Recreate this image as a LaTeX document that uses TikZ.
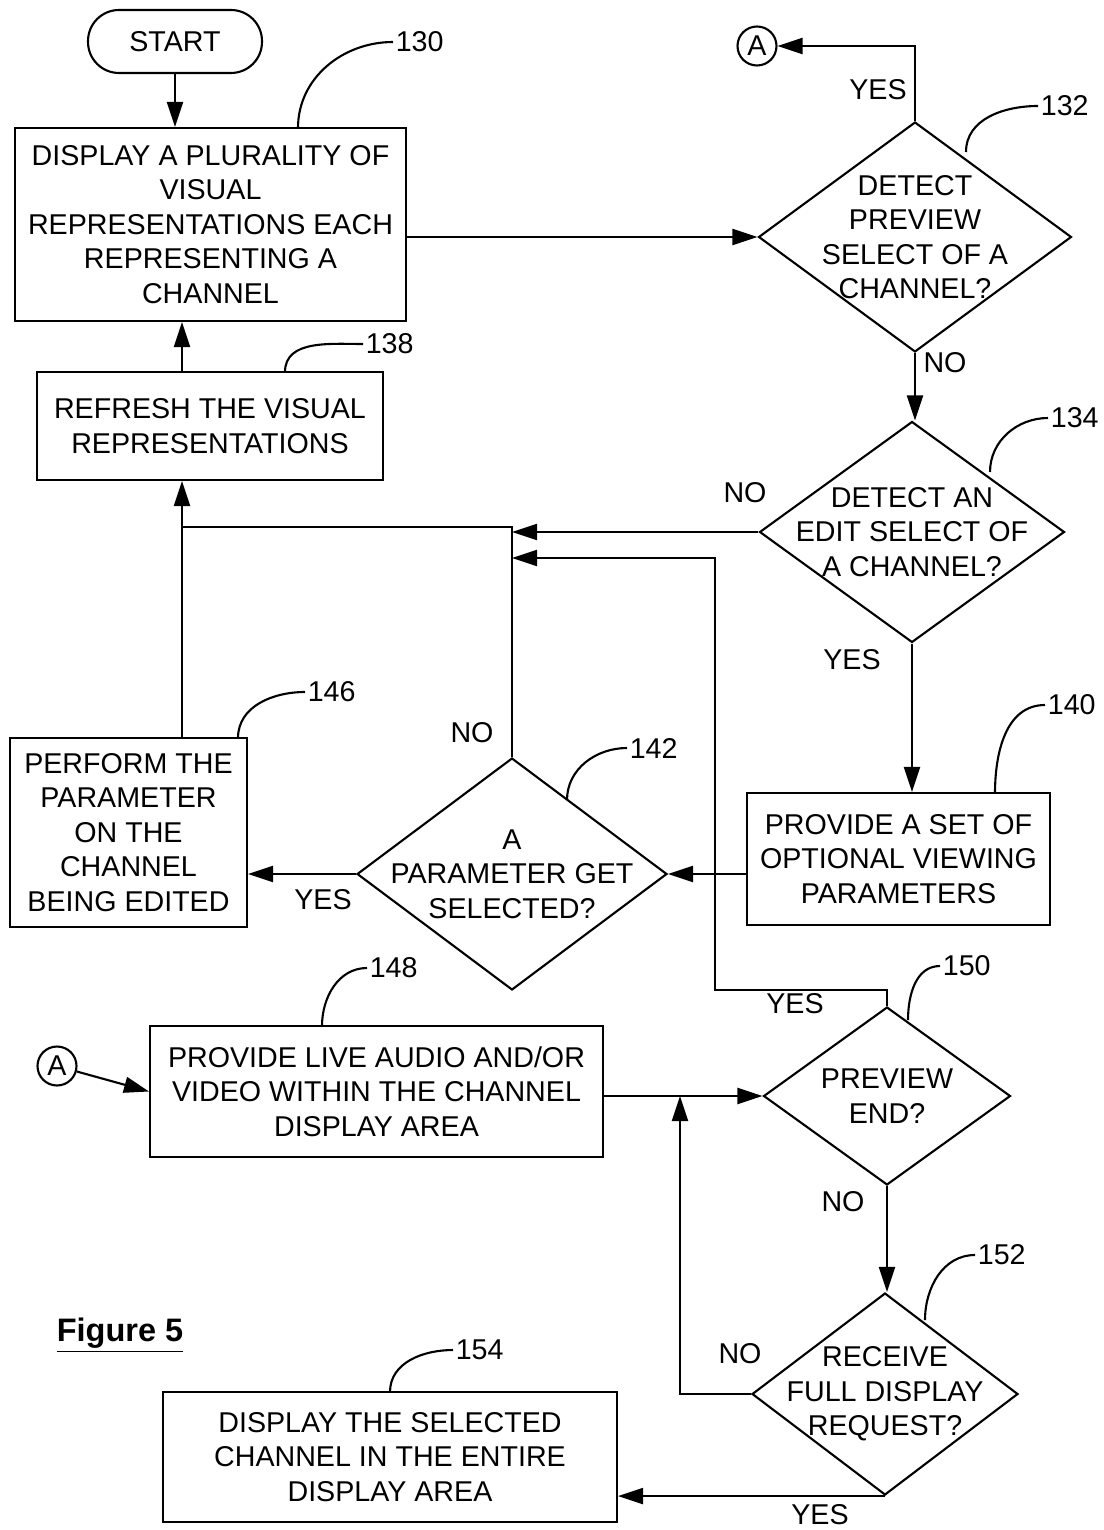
\documentclass[tikz,border=0pt]{standalone}
\usepackage{fontspec}
\setmainfont{Liberation Sans}
\usetikzlibrary{shapes.geometric,arrows.meta}

\begin{document}
\begin{tikzpicture}[x=0.02cm,y=-0.02cm,>={Triangle[length=0.5cm,width=0.32cm]},
    line width=1.2pt,
    every node/.style={font=\fontsize{16.3}{19.6}\selectfont},
    stepbox/.style={draw,rectangle,align=center,inner sep=2pt},
    decision/.style={draw,diamond,inner sep=0pt},
    txt/.style={align=center,inner sep=0pt},
    conn/.style={draw,circle,inner sep=0pt,minimum size=0.78cm},
    refnum/.style={anchor=west,inner sep=1pt}]
    \useasboundingbox (0,0) rectangle (1104,1530);
    \node[stepbox,rounded corners=0.62cm,minimum width=3.48cm,minimum height=1.26cm] (start) at (175,41.5) {START};
    \node[stepbox,minimum width=7.82cm,minimum height=3.86cm] (b130) at (210.5,224.5) {DISPLAY A PLURALITY OF\\VISUAL\\REPRESENTATIONS EACH\\REPRESENTING A\\CHANNEL};
    \node[stepbox,minimum width=6.92cm,minimum height=2.16cm] (b138) at (210,426) {REFRESH THE VISUAL\\REPRESENTATIONS};
    \node[stepbox,minimum width=6.06cm,minimum height=2.64cm] (b140) at (898.5,859) {PROVIDE A SET OF\\OPTIONAL VIEWING\\PARAMETERS};
    \node[stepbox,minimum width=4.74cm,minimum height=3.78cm] (b146) at (128.5,832.5) {PERFORM THE\\PARAMETER\\ON THE\\CHANNEL\\BEING EDITED};
    \node[stepbox,minimum width=9.06cm,minimum height=2.62cm] (b148) at (376.5,1091.5) {PROVIDE LIVE AUDIO AND/OR\\VIDEO WITHIN THE CHANNEL\\DISPLAY AREA};
    \node[stepbox,minimum width=9.08cm,minimum height=2.6cm] (b154) at (390,1457) {DISPLAY THE SELECTED\\CHANNEL IN THE ENTIRE\\DISPLAY AREA};
    \node[decision,minimum width=6.26cm,minimum height=4.6cm] (d132) at (915,237) {};
    \node[txt] (t132) at (d132) {DETECT\\PREVIEW\\SELECT OF A\\CHANNEL?};
    \node[decision,minimum width=6.1cm,minimum height=4.42cm] (d134) at (912,532) {};
    \node[txt] (t134) at (d134) {DETECT AN\\EDIT SELECT OF\\A CHANNEL?};
    \node[decision,minimum width=6.2cm,minimum height=4.64cm] (d142) at (512,874) {};
    \node[txt] (t142) at (d142) {A\\PARAMETER GET\\SELECTED?};
    \node[decision,minimum width=4.94cm,minimum height=3.56cm] (d150) at (887,1096) {};
    \node[txt] (t150) at (d150) {PREVIEW\\END?};
    \node[decision,minimum width=5.32cm,minimum height=4.04cm] (d152) at (885,1394) {};
    \node[txt] (t152) at (d152) {RECEIVE\\FULL DISPLAY\\REQUEST?};
    \node[conn] (a1) at (757,46) {A};
    \node[conn] (a2) at (57,1066) {A};
    \coordinate (k1) at (182,527);
    \coordinate (k2) at (715,990);
    \coordinate (k3) at (512,558);
    \coordinate (k4) at (680,1096);
    \draw[->] (start) -- (start |- b130.north);
    \draw[->] (b138.north -| k1) -- (b130.south -| k1);
    \draw[->] (b130.east |- d132.west) -- (d132.west);
    \draw[->] (d132.north) |- (a1);
    \draw[->] (d132.south) -- (d132.south |- d134.north);
    \draw[->] (d134.west) -- (d134.west -| d142.north);
    \draw[->] (d134.south) -- (d134.south |- b140.north);
    \draw[->] (b140.west |- d142.east) -- (d142.east);
    \draw[->] (d142.west) -- (d142.west -| b146.east);
    \draw (d142.north) |- (k1);
    \draw[->] (b146.north -| k1) -- (b138.south -| k1);
    \draw[->] (d150.north) |- (k2) |- (k3);
    \draw[->] (a2) -- (b148.west);
    \draw[->] (b148.east |- d150.west) -- (d150.west);
    \draw[->] (d150.south) -- (d150.south |- d152.north);
    \draw[->] (d152.west) -| (k4);
    \draw[->] (d152.south) -- (d152.south -| b154.east);
    \node (y132) at (878,90) {YES};
    \node (n132) at (945,363) {NO};
    \node (n134) at (745,493) {NO};
    \node (y134) at (852,660) {YES};
    \node (n142) at (472,733) {NO};
    \node (y142) at (323,900) {YES};
    \node (y150) at (795,1004) {YES};
    \node (n150) at (843,1202) {NO};
    \node (n152) at (740,1354) {NO};
    \node (y152) at (820,1515) {YES};
    \node (fig) at (120,1335) {\fontsize{18.5}{22}\selectfont\bfseries\underline{Figure 5}};
    \foreach \num/\sa/\ea in {130/{298,128}/{393,42}, 132/{966,152}/{1038,106},
        134/{990,472}/{1048,418}, 138/{285,372}/{363,344}, 140/{995,793}/{1045,705},
        142/{567,800}/{627,748}, 146/{238,738}/{305,692}, 148/{322,1026}/{367,968},
        150/{908,1020}/{940,966}, 152/{925,1320}/{975,1255}, 154/{390,1392}/{453,1350}}
        {\node[refnum] (r\num) at (\ea) {\num};
        \draw (\sa) to[out=90,in=180] (r\num.west);}
\end{tikzpicture}
\end{document}
